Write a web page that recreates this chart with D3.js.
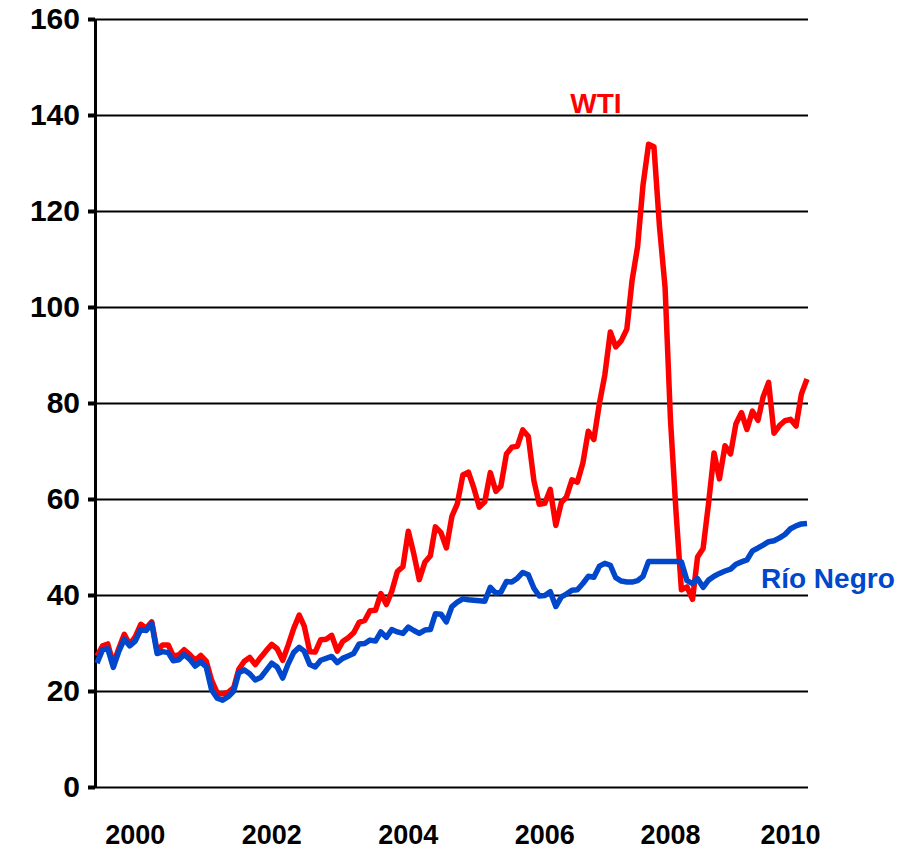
<!DOCTYPE html>
<html>
<head>
<meta charset="utf-8">
<script src="https://cdn.jsdelivr.net/npm/d3@7"></script>
<style>
  body { margin: 0; background: #fff; }
  text { font-family: "Liberation Sans", Arial, sans-serif; font-weight: bold; }
</style>
</head>
<body>
<div id="chart"></div>
<script>
// monthly prices, Jan 2000 - Nov 2010 (US$/bbl)
var wti = [
  27.3, 29.4, 29.8, 25.7, 28.8, 31.8, 29.7, 31.3, 33.9, 33.1, 34.4, 28.4,
  29.6, 29.6, 27.3, 27.5, 28.6, 27.6, 26.4, 27.4, 26.2, 22.2, 19.6, 19.4,
  19.7, 20.7, 24.5, 26.2, 27.0, 25.5, 27.0, 28.4, 29.7, 28.8, 26.4, 29.5,
  33.0, 35.8, 33.5, 28.2, 28.1, 30.7, 30.8, 31.6, 28.3, 30.3, 31.1, 32.1,
  34.3, 34.7, 36.7, 36.8, 40.3, 38.0, 40.8, 44.9, 45.9, 53.3, 48.5, 43.2,
  46.8, 48.2, 54.2, 53.0, 49.8, 56.4, 59.0, 65.0, 65.6, 62.3, 58.3, 59.4,
  65.5, 61.6, 62.7, 69.4, 70.8, 71.0, 74.4, 73.0, 63.8, 58.9, 59.1, 62.0,
  54.5, 59.3, 60.4, 64.0, 63.5, 67.5, 74.1, 72.4, 79.9, 85.8, 94.8, 91.7,
  93.0, 95.4, 105.5, 112.6, 125.4, 133.9, 133.4, 116.7, 104.1, 76.6, 57.3, 41.1,
  41.7, 39.1, 47.9, 49.7, 59.0, 69.6, 64.2, 71.1, 69.4, 75.7, 78.0, 74.5,
  78.3, 76.4, 81.2, 84.3, 73.7, 75.3, 76.3, 76.6, 75.2, 81.9, 85.0
];

var rioNegro = [
  25.8, 28.6, 28.8, 24.9, 28.2, 30.8, 29.4, 30.4, 32.8, 32.6, 34.1, 27.8,
  28.2, 28.0, 26.3, 26.5, 27.6, 26.6, 25.2, 26.1, 25.0, 20.2, 18.5, 18.1,
  18.8, 20.0, 23.8, 24.4, 23.6, 22.3, 22.8, 24.3, 25.8, 25.0, 22.7, 25.6,
  28.0, 29.1, 28.3, 25.5, 25.0, 26.4, 26.8, 27.2, 25.9, 26.8, 27.3, 27.8,
  29.8, 29.9, 30.6, 30.4, 32.3, 31.2, 32.8, 32.3, 32.0, 33.3, 32.6, 32.0,
  32.7, 32.8, 36.1, 36.0, 34.4, 37.6, 38.5, 39.2, 39.0, 38.9, 38.8, 38.7,
  41.6, 40.4, 40.6, 42.8, 42.7, 43.5, 44.7, 44.2, 41.4, 39.8, 39.9, 40.7,
  37.6, 39.6, 40.2, 41.0, 41.1, 42.4, 43.9, 43.7, 46.0, 46.6, 46.2, 43.6,
  42.9, 42.7, 42.7, 43.0, 43.9, 47.0, 47.0, 47.0, 47.0, 47.0, 47.0, 46.9,
  43.0, 42.4, 43.4, 41.6, 43.1, 43.9, 44.5, 45.0, 45.4, 46.4, 46.9, 47.3,
  49.2, 49.8, 50.4, 51.1, 51.3, 51.9, 52.6, 53.8, 54.4, 54.8, 54.9
];

var months = d3.timeMonth.range(new Date(2000, 0, 1), new Date(2010, 11, 1));

// year labels and the month under which each one sits
var yearLabels = ["2000", "2002", "2004", "2006", "2008", "2010"];
var labelMonths = ["2000-08", "2002-09", "2004-10", "2006-11", "2008-10", "2010-08"];

var yTicks = [0, 20, 40, 60, 80, 100, 120, 140, 160];

var svgWidth = 904;
var svgHeight = 852;

var margin = { top: 19, right: 96, bottom: 65, left: 95 };
var width = svgWidth - margin.left - margin.right;
var height = svgHeight - margin.top - margin.bottom;

var svg = d3.select("#chart")
  .append("svg")
  .attr("width", svgWidth)
  .attr("height", svgHeight);

var chartGroup = svg.append("g")
  .attr("transform", `translate(${margin.left}, ${margin.top})`);

var xScale = d3.scaleTime()
  .domain([months[0], months[months.length - 1]])
  .range([2, width - 1]);

var yScale = d3.scaleLinear()
  .domain([0, 160])
  .range([height, 0]);

// gridlines
chartGroup.append("g")
  .attr("class", "grid")
  .call(d3.axisLeft(yScale).tickValues(yTicks).tickSize(-width).tickFormat(""))
  .call(g => g.select(".domain").remove())
  .selectAll("line")
  .attr("stroke", "#000")
  .attr("stroke-width", 2);

// y axis with ticks and labels
var leftAxis = d3.axisLeft(yScale)
  .tickValues(yTicks)
  .tickSize(7)
  .tickSizeOuter(0)
  .tickPadding(8);

chartGroup.append("g")
  .call(leftAxis)
  .call(g => g.select(".domain").attr("stroke", "#000").attr("stroke-width", 3))
  .call(g => g.selectAll(".tick line").attr("stroke", "#000").attr("stroke-width", 4))
  .call(g => g.selectAll(".tick text")
    .attr("font-size", 30)
    .attr("font-family", "'Liberation Sans', Arial, sans-serif")
    .attr("font-weight", "bold")
    .attr("fill", "#000"));

// x labels (no tick marks)
var parseMonth = d3.timeParse("%Y-%m");
chartGroup.selectAll(".year-label")
  .data(yearLabels)
  .enter()
  .append("text")
  .attr("class", "year-label")
  .attr("x", (d, i) => xScale(parseMonth(labelMonths[i])))
  .attr("y", height + 57)
  .attr("text-anchor", "middle")
  .attr("font-size", 27)
  .text(d => d);

// lines
var line = d3.line()
  .x((d, i) => xScale(months[i]))
  .y(d => yScale(d))
  .curve(d3.curveLinear);

chartGroup.append("path")
  .datum(wti)
  .attr("fill", "none")
  .attr("stroke", "#ff0000")
  .attr("stroke-width", 5.5)
  .attr("stroke-linejoin", "round")
  .attr("d", line);

chartGroup.append("path")
  .datum(rioNegro)
  .attr("fill", "none")
  .attr("stroke", "#0047cc")
  .attr("stroke-width", 5.5)
  .attr("stroke-linejoin", "round")
  .attr("d", line);

// series labels
chartGroup.append("text")
  .attr("x", xScale(new Date(2008, 0, 1)) - 51)
  .attr("y", yScale(140.5))
  .attr("text-anchor", "start")
  .attr("font-size", 28)
  .attr("fill", "#ff0000")
  .text("WTI");

chartGroup.append("text")
  .attr("x", xScale(new Date(2009, 0, 1)) + 74)
  .attr("y", yScale(41.5))
  .attr("text-anchor", "start")
  .attr("font-size", 28)
  .attr("fill", "#0047cc")
  .text("Río Negro");
</script>
</body>
</html>
